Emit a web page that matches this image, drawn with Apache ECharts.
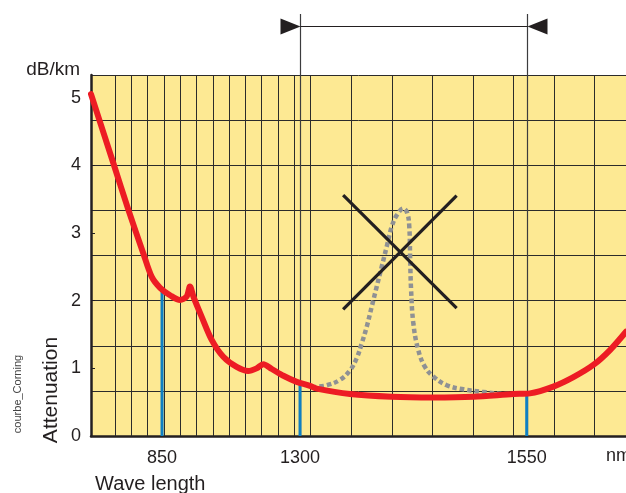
<!DOCTYPE html>
<html><head><meta charset="utf-8">
<script src="https://cdn.jsdelivr.net/npm/echarts@6/dist/echarts.min.js"></script>
<style>html,body{margin:0;padding:0;background:#fff}#c{width:626px;height:493px}</style>
</head><body><div id="c"></div>
<script>
// X is measured in "grid cell" units of the (non-linear, schematic) wavelength scale
const xTickPos = [2.91, 11.36, 25.24];
const xTickLabels = ['850', '1300', '1550'];
const fineGridX = [0, 1, 2, 3, 4, 5, 6, 7, 8, 9, 10, 11, 12];
const coarseGridX = [14.48, 16.97, 19.44, 21.93, 24.40, 26.91, 29.39];

// Attenuation curve (dB/km)
const attX = [-1.44, -0.07, 0.85, 1.76, 2.28, 2.79, 3.40, 4.01, 4.42, 4.62, 4.83, 5.34, 5.95, 6.66, 7.48, 8.19, 8.71, 9.11, 9.63, 10.34, 11.16, 11.97, 12.38, 14.42, 16.97, 19.52, 21.97, 24.42, 25.44, 26.87, 28.10, 29.32, 30.34, 31.32];
const attY = [5.05, 4.03, 3.34, 2.70, 2.35, 2.19, 2.08, 2.01, 2.06, 2.21, 2.06, 1.76, 1.42, 1.17, 1.02, 0.96, 1.00, 1.06, 0.99, 0.89, 0.80, 0.74, 0.70, 0.62, 0.58, 0.57, 0.58, 0.62, 0.63, 0.73, 0.87, 1.05, 1.27, 1.54];

// Water peak (dotted grey)
const peakX = [12.09, 12.99, 13.81, 14.42, 14.83, 15.14, 15.44, 15.75, 16.06, 16.36, 16.67, 16.97, 17.28, 17.69, 17.93, 18.05, 18.10, 18.16, 18.30, 18.60, 19.01, 19.52, 20.34, 21.36, 22.58, 24.22, 24.34];
const peakY = [0.72, 0.75, 0.83, 0.97, 1.15, 1.37, 1.61, 1.91, 2.21, 2.50, 2.80, 3.09, 3.26, 3.36, 3.29, 3.09, 2.65, 2.16, 1.66, 1.27, 1.02, 0.88, 0.75, 0.69, 0.65, 0.62, 0.62];

// Cross over the water peak
const crossA = [[14.0, 3.56], [20.95, 1.89]];
const crossB = [[20.95, 3.55], [14.0, 1.87]];

// Attenuation at the three windows (850, 1300, 1550)
const windowLevels = [2.16, 0.78, 0.63];

const yMax = 16 / 3;
const ink = '#231f20';
const font = "'Liberation Sans', Arial, Helvetica, sans-serif";

const chart = echarts.init(document.getElementById('c'), null, {renderer: 'canvas'});

const gridXs = fineGridX.concat(coarseGridX);
const series = [
  {
    type: 'custom', z: 1, silent: true, clip: true,
    data: gridXs.map(x => [x]),
    renderItem: function (params, api) {
      const p0 = api.coord([api.value(0), 0]);
      const p1 = api.coord([api.value(0), yMax]);
      const x = Math.round(p0[0]) + 0.5;
      return {type: 'line', shape: {x1: x, y1: p0[1], x2: x, y2: p1[1]}, style: {stroke: '#2b2b2b', lineWidth: 1}};
    }
  }
];
windowLevels.forEach(function (lv, i) {
  series.push({
    type: 'line', z: 3, silent: true, symbol: 'none',
    data: [[xTickPos[i], 0], [xTickPos[i], lv]],
    lineStyle: {color: '#0f7fc3', width: 3}
  });
});
series.push({
  type: 'line', z: 4, silent: true, symbol: 'none', smooth: 0.4,
  data: peakX.map((x, i) => [x, peakY[i]]),
  lineStyle: {color: '#8f9194', width: 4.5, type: [4.5, 3], cap: 'butt'}
});
[crossA, crossB].forEach(function (c) {
  series.push({type: 'line', z: 5, silent: true, symbol: 'none', data: c, lineStyle: {color: ink, width: 3.2}});
});
series.push({
  type: 'line', z: 6, silent: true, symbol: 'none', smooth: 0.3,
  data: attX.map((x, i) => [x, attY[i]]),
  lineStyle: {color: '#ed1c24', width: 6, cap: 'round', join: 'round'}
});

chart.setOption({
  animation: false,
  backgroundColor: '#ffffff',
  grid: {left: 91, right: 0, top: 75, bottom: 57, show: true, backgroundColor: '#fde993', borderWidth: 0},
  xAxis: {
    type: 'value', min: -1.44, max: 31.32,
    axisLine: {show: true, onZero: false, lineStyle: {color: ink, width: 2.5}},
    axisTick: {show: false},
    splitLine: {show: false},
    axisLabel: {
      customValues: xTickPos, margin: 13, fontSize: 18, fontFamily: font, color: ink,
      formatter: function (v) {
        let best = 0;
        xTickPos.forEach((p, i) => { if (Math.abs(p - v) < Math.abs(xTickPos[best] - v)) best = i; });
        return xTickLabels[best];
      }
    }
  },
  yAxis: [
    {
      type: 'value', min: 0, max: yMax, interval: 1,
      axisLine: {show: true, onZero: false, lineStyle: {color: ink, width: 2.5}},
      axisTick: {show: true, inside: true, length: 4, lineStyle: {color: ink, width: 1}},
      splitLine: {show: false},
      axisLabel: {showMaxLabel: false, margin: 10, fontSize: 18, fontFamily: font, color: ink,
        formatter: v => (Math.abs(v - Math.round(v)) < 1e-6 ? String(Math.round(v)) : '')}
    },
    {
      type: 'value', min: 0, max: yMax, interval: 2 / 3,
      axisLine: {show: false, onZero: false}, axisTick: {show: false}, axisLabel: {show: false},
      splitLine: {show: true, lineStyle: {color: '#2b2b2b', width: 1}}
    }
  ],
  series: series
});

// bracket marking the 1300-1550 window
const pL = chart.convertToPixel({gridIndex: 0}, [xTickPos[1], 0]);
const pR = chart.convertToPixel({gridIndex: 0}, [xTickPos[2], 0]);
const xl = Math.round(pL[0]) + 0.5, xr = Math.round(pR[0]) + 0.5, yb = pL[1];
const by = 26.5;
chart.setOption({
  graphic: [
    {type: 'line', z: 2, silent: true, shape: {x1: xl, y1: 14, x2: xl, y2: yb}, style: {stroke: '#3c3c3e', lineWidth: 1.2}},
    {type: 'line', z: 2, silent: true, shape: {x1: xr, y1: 14, x2: xr, y2: yb}, style: {stroke: '#3c3c3e', lineWidth: 1.2}},
    {type: 'line', z: 2, silent: true, shape: {x1: xl, y1: by, x2: xr, y2: by}, style: {stroke: ink, lineWidth: 1.2}},
    {type: 'polygon', z: 2, silent: true, shape: {points: [[xl - 20, by - 8], [xl, by], [xl - 20, by + 8]]}, style: {fill: ink}},
    {type: 'polygon', z: 2, silent: true, shape: {points: [[xr + 20, by - 8], [xr, by], [xr + 20, by + 8]]}, style: {fill: ink}},
    {type: 'text', z: 10, x: 80, y: 70, style: {text: 'dB/km', font: '19px ' + font, fill: ink, align: 'right', verticalAlign: 'middle'}},
    {type: 'text', z: 10, x: 606, y: 456, style: {text: 'nm', font: '18px ' + font, fill: ink, align: 'left', verticalAlign: 'middle'}},
    {type: 'text', z: 10, x: 95, y: 484, style: {text: 'Wave length', font: '20px ' + font, fill: ink, align: 'left', verticalAlign: 'middle'}},
    {type: 'text', z: 10, x: 51, y: 390, rotation: Math.PI / 2, style: {text: 'Attenuation', font: '21px ' + font, fill: ink, align: 'center', verticalAlign: 'middle'}},
    {type: 'text', z: 10, x: 18, y: 394, rotation: Math.PI / 2, style: {text: 'courbe_Corning', font: '11px ' + font, fill: '#444', align: 'center', verticalAlign: 'middle'}}
  ]
});
</script>
</body></html>
